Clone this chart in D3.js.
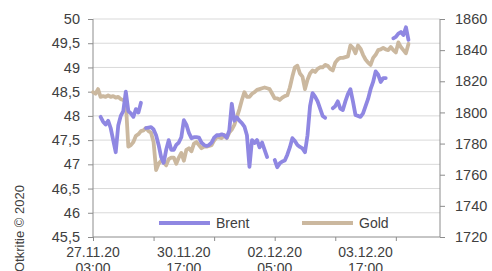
<!DOCTYPE html>
<html><head><meta charset="utf-8">
<script src="https://cdn.jsdelivr.net/npm/d3@7/dist/d3.min.js"></script>
<style>body{margin:0;background:#fff}svg{display:block;font-family:"Liberation Sans",Arial,sans-serif}</style>
</head><body><svg id="c" width="492" height="271"></svg>
<script>
const seriesNames = ["Brent", "Gold"];
const brent = [null,null,null,47.98,47.88,47.82,47.9,47.75,47.5,47.25,
47.8,48.0,48.1,48.5,48.1,48.05,47.98,48.14,48.07,48.27,
null,47.75,47.76,47.77,47.72,47.6,47.4,47.15,47.03,47.3,
47.5,47.3,47.3,47.4,47.45,47.56,47.91,47.82,47.65,47.54,
47.56,47.56,47.55,47.45,47.4,47.38,47.4,47.45,47.55,47.6,
47.6,47.62,47.6,47.55,47.7,48.25,47.9,47.97,47.9,47.85,
47.78,47.6,46.95,47.5,47.44,47.5,47.35,47.45,47.3,47.15,
null,null,47.09,46.94,47.02,47.06,47.08,47.2,47.35,47.54,
47.48,47.4,47.36,47.33,47.25,47.6,48.2,48.47,48.4,48.3,
48.15,48.0,47.96,null,null,48.16,48.2,48.3,48.15,48.12,
48.3,48.45,48.55,48.3,48.02,48.0,47.98,48.05,48.2,48.35,
48.55,48.7,48.92,48.85,48.7,48.78,48.78,null,null,49.6,
49.63,49.7,49.73,49.67,49.83,49.57];
const gold = [1813,1812,1815,1810,1810.5,1810,1811,1810,1810.5,1809.5,
1810,1808.5,1808,1806.5,1778,1779,1781,1785,1786,1788,
1788.5,1790,1788,1787,1781,1763,1767,1769,1768,1766,
1770,1771,1771,1767,1771,1774,1769,1776,1777,1775,
1780,1781,1779,1777,1778,1778,1778.5,1779,1782,1784,
1784,1783.5,1785.5,1783.5,1787,1789,1792,1797,1802,1808,
1813,1810,1810,1812,1813,1814.5,1815,1815.5,1816,1815.5,
1815,1812,1809,1809,1808,1809.5,1810.5,1811,1816,1823,
1829,1830,1825,1823,1815,1821,1825,1827,1826,1828,
1829,1829,1830.5,1830,1828,1827,1832,1834,1835,1835,
1835.5,1836,1843,1841.5,1838,1843,1841,1837,1834,1832,
1830.5,1835,1837,1840,1840.5,1841.5,1840.5,1840,1842,1840,
1838.5,1845,1842,1840,1838,1844];
const xLabelIdx = [0, 36, 72, 108];
const xLabels = [["27.11.20","03:00"],["30.11.20","17:00"],["02.12.20","05:00"],["03.12.20","17:00"]];
const xTickIdx = [0, 24, 48, 72, 96, 120];
const leftTicks = [45.5,46,46.5,47,47.5,48,48.5,49,49.5,50];
const rightTicks = [1720,1740,1760,1780,1800,1820,1840,1860];
const credit = "Otkritie © 2020";

const svg = d3.select("#c");
const L = 93, R = 440, T = 19, B = 237;
const x = d3.scaleLinear().domain([0, 137.5]).range([L, R]);
const yL = d3.scaleLinear().domain([45.5, 50]).range([B, T]);
const yR = d3.scaleLinear().domain([1720, 1860]).range([B, T]);
const txt = "#404040", axc = "#8c8c8c";
const fmt = v => String(v).replace(".", ",");

// gridlines
svg.append("g").selectAll("line").data(leftTicks.filter(v => v !== 45.5)).join("line")
  .attr("x1", L).attr("x2", R).attr("y1", d => yL(d)).attr("y2", d => yL(d))
  .attr("stroke", "#d9d9d9").attr("stroke-width", 1);

// left axis
const gl = svg.append("g").attr("transform", `translate(${L},0)`)
  .call(d3.axisLeft(yL).tickValues(leftTicks).tickFormat(fmt).tickSize(5).tickPadding(8));
// right axis
const gr = svg.append("g").attr("transform", `translate(${R},0)`)
  .call(d3.axisRight(yR).tickValues(rightTicks).tickFormat(d3.format("d")).tickSize(5).tickPadding(10));
[gl, gr].forEach(g => {
  g.select(".domain").attr("stroke", axc).attr("d", null);
  g.selectAll(".tick line").attr("stroke", axc);
  g.selectAll(".tick text").attr("fill", txt).style("font-size", "14.5px").style("font-family", '"Liberation Sans",Arial,sans-serif');
});
gl.select(".domain").remove(); gr.select(".domain").remove();
svg.append("line").attr("x1", L).attr("x2", L).attr("y1", T).attr("y2", B).attr("stroke", axc);
svg.append("line").attr("x1", R).attr("x2", R).attr("y1", T).attr("y2", B).attr("stroke", axc);

// bottom axis
const gb = svg.append("g").attr("transform", `translate(0,${B})`)
  .call(d3.axisBottom(x).tickValues(xTickIdx).tickFormat("").tickSize(4));
gb.select(".domain").remove();
gb.selectAll(".tick line").attr("stroke", axc);
svg.append("line").attr("x1", L).attr("x2", R).attr("y1", B).attr("y2", B).attr("stroke", axc);

const xl = svg.append("g").selectAll("text").data(xLabelIdx).join("text")
  .attr("x", d => x(d)).attr("y", 257).attr("text-anchor", "middle")
  .attr("fill", txt).style("font-size", "14px");
xl.each(function(d, i) {
  const t = d3.select(this);
  t.append("tspan").attr("x", x(d)).attr("dy", 0).text(xLabels[i][0]);
  t.append("tspan").attr("x", x(d)).attr("dy", 16).text(xLabels[i][1]);
});

// lines
const colors = {Brent: "#8f87e2", Gold: "#cbb89f"};
const lineL = d3.line().defined(d => d != null).x((d, i) => x(i)).y(d => yL(d));
const lineR = d3.line().defined(d => d != null).x((d, i) => x(i)).y(d => yR(d));
svg.append("path").attr("d", lineR(gold)).attr("fill", "none").attr("stroke", colors.Gold)
  .attr("stroke-width", 3.8).attr("stroke-linejoin", "round").attr("stroke-linecap", "round");
svg.append("path").attr("d", lineL(brent)).attr("fill", "none").attr("stroke", colors.Brent)
  .attr("stroke-width", 3.8).attr("stroke-linejoin", "round").attr("stroke-linecap", "round");

// legend
const leg = [{n: "Brent", x: 159}, {n: "Gold", x: 302}];
const lg = svg.append("g").selectAll("g").data(leg).join("g").attr("transform", d => `translate(${d.x},223)`);
lg.append("line").attr("x1", 0).attr("x2", 51).attr("stroke", d => colors[d.n]).attr("stroke-width", 4);
lg.append("text").attr("x", 57).attr("dy", "0.35em").attr("fill", txt).style("font-size", "14px").text(d => d.n);

// credit
svg.append("text").attr("transform", "translate(24,272) rotate(-90)").attr("fill", txt)
  .style("font-size", "13px").text(credit);
</script></body></html>
